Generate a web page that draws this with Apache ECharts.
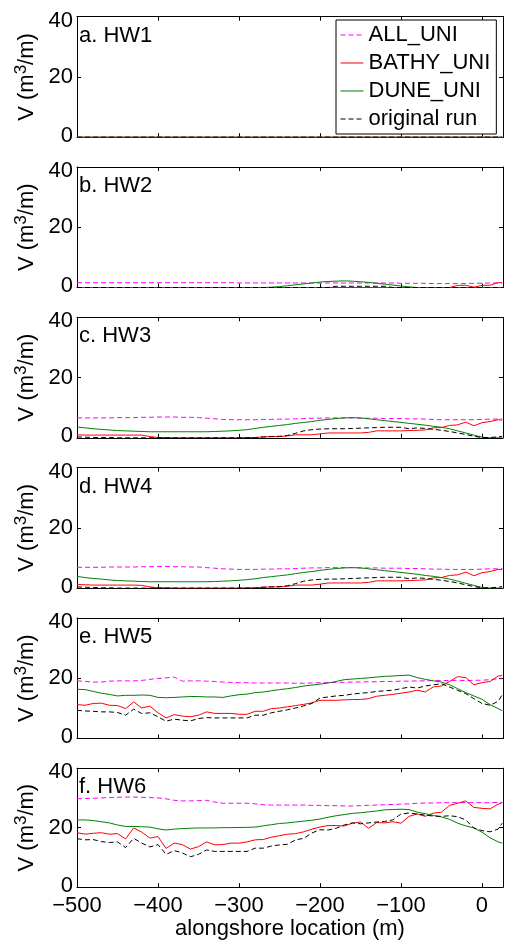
<!DOCTYPE html>
<html>
<head>
<meta charset="utf-8">
<script src="https://cdn.jsdelivr.net/npm/echarts@6/dist/echarts.min.js"></script>
<style>
  html, body { margin: 0; padding: 0; background: #fff; }
  #chart { width: 507px; height: 941px; }
</style>
</head>
<body>
<div id="chart"></div>
<script>
// Alongshore positions (m) shared by every panel
const xs = [-500, -490, -480, -470, -460, -450, -440, -430, -420, -410,
            -400, -390, -380, -370, -360, -350, -340, -330, -320, -310,
            -300, -290, -280, -270, -260, -250, -240, -230, -220, -210,
            -200, -190, -180, -170, -160, -150, -140, -130, -120, -110,
            -100, -90, -80, -70, -60, -50, -40, -30, -20, -10,
            0, 10, 20, 25];

// HW1
const hw1All   = [0,0,0,0,0,0,0,0,0,0, 0,0,0,0,0,0,0,0,0,0, 0,0,0,0,0,0,0,0,0,0, 0,0,0,0,0,0,0,0,0,0, 0,0,0,0,0,0,0,0,0,0, 0,0,0,0];
const hw1Bathy = [0,0,0,0,0,0,0,0,0,0, 0,0,0,0,0,0,0,0,0,0, 0,0,0,0,0,0,0,0,0,0, 0,0,0,0,0,0,0,0,0,0, 0,0,0,0,0,0,0,0,0,0, 0,0,0,0];
const hw1Dune  = [0,0,0,0,0,0,0,0,0,0, 0,0,0,0,0,0,0,0,0,0, 0,0,0,0,0,0,0,0,0,0, 0,0,0,0,0,0,0,0,0,0, 0,0,0,0,0,0,0,0,0,0, 0,0,0,0];
const hw1Orig  = [0,0,0,0,0,0,0,0,0,0, 0,0,0,0,0,0,0,0,0,0, 0,0,0,0,0,0,0,0,0,0, 0,0,0,0,0,0,0,0,0,0, 0,0,0,0,0,0,0,0,0,0, 0,0,0,0];

// HW2
const hw2All   = [1.6,1.6,1.6,1.6,1.6,1.6,1.6,1.6,1.6,1.6, 1.6,1.6,1.6,1.6,1.6,1.6,1.6,1.6,1.6,1.6,
                  1.5,1.5,1.5,1.5,1.5,1.5,1.5,1.5,1.5,1.5, 1.5,1.5,1.5,1.5,1.5,1.5,1.5,1.5,1.5,1.5,
                  1.4,1.4,1.4,1.4,1.3,1.3,1.3,1.3,1.3,1.4, 1.4,1.5,1.5,1.5];
const hw2Bathy = [0,0,0,0,0,0,0,0,0,0, 0,0,0,0,0,0,0,0,0,0, 0,0,0,0,0,0,0,0,0,0, 0,0,0,0,0,0,0,0,0,0,
                  0,0,0,0,0,0,0,0.7,0.75,0.1, 0.7,0.75,1.6,1.6];
const hw2Dune  = [0,0,0,0,0,0,0,0,0,0, 0,0,0,0,0,0,0,0,0,0, 0,0,0,0,0.1,0.3,0.6,0.9,1.2,1.5,
                  1.8,2.0,2.1,2.2,2.1,1.9,1.7,1.4,1.1,0.8, 0.5,0.2,0,0,0,0,0,0,0,0, 0,0,0,0];
const hw2Orig  = [0,0,0,0,0,0,0,0,0,0, 0,0,0,0,0,0,0,0,0,0, 0,0,0,0,0,0,0,0,0,0,
                  0,0,0.4,0.4,0.4,0.4,0.4,0.4,0.4,0, 0,0,0,0,0,0,0,0,0,0, 0,0,0,0];

// HW3
const hw3All   = [6.6,6.6,6.6,6.6,6.6,6.7,6.7,6.7,6.8,6.8, 6.9,6.9,6.9,6.8,6.8,6.7,6.5,6.3,6.1,6.0,
                  6.0,6.0,6.0,6.1,6.1,6.2,6.2,6.3,6.4,6.5, 6.5,6.6,6.6,6.6,6.6,6.5,6.5,6.5,6.4,6.4,
                  6.4,6.3,6.3,6.2,6.1,6.0,6.0,6.0,6.0,6.0, 6.1,6.2,6.2,6.3];
const hw3Bathy = [1.0,0.9,0.9,0.9,0.9,0.9,0.9,0.9,0.9,0.4, 0.1,0.1,0,0,0,0,0,0,0,0,
                  0,0.1,0.1,0.3,0.4,0.4,0.6,1.0,1.0,1.0, 1.3,1.6,1.6,1.6,1.6,1.6,1.8,2.3,2.3,2.3,
                  2.3,2.4,2.5,2.6,3.3,3.4,4.1,4.3,5.2,4.0, 5.0,5.4,6.0,5.9];
const hw3Dune  = [3.6,3.3,3.0,2.8,2.6,2.4,2.3,2.2,2.1,2.0, 2.0,2.0,2.0,2.0,2.0,2.0,2.0,2.1,2.2,2.3,
                  2.5,2.7,3.1,3.5,3.8,4.1,4.4,4.8,5.1,5.4, 5.8,6.1,6.4,6.6,6.7,6.6,6.3,6.0,5.7,5.4,
                  5.1,4.8,4.5,4.2,3.8,3.5,3.0,2.3,1.6,0.9, 0.2,0,0,0];
const hw3Orig  = [0.3,0.2,0.1,0.1,0.1,0,0,0,0,0, 0,0,0,0,0,0,0,0,0,0,
                  0,0,0,0.3,0.4,0.5,0.8,1.5,2.3,2.7, 2.9,3.0,3.0,3.0,3.1,3.2,3.3,3.4,3.5,3.5,
                  3.5,3.0,3.3,3.1,2.8,2.5,2.1,1.6,1.1,0.5, 0.1,0.1,0.3,0.5];

// HW4
const hw4All   = [6.9,6.9,6.9,6.9,7.0,7.0,7.0,7.0,7.1,7.1, 7.2,7.2,7.1,7.1,7.0,7.0,6.8,6.6,6.4,6.3,
                  6.2,6.2,6.2,6.3,6.3,6.4,6.4,6.5,6.6,6.7, 6.7,6.8,6.8,6.8,6.8,6.7,6.7,6.7,6.6,6.6,
                  6.6,6.5,6.5,6.4,6.3,6.3,6.2,6.2,6.2,6.2, 6.3,6.4,6.4,6.5];
const hw4Bathy = [1.2,1.1,1.0,1.0,1.0,1.0,1.0,1.0,0.9,0.4, 0.1,0.1,0,0,0,0,0,0,0,0,
                  0,0.1,0.1,0.3,0.4,0.4,0.6,1.0,1.0,1.0, 1.3,1.7,1.7,1.7,1.7,1.7,1.9,2.4,2.4,2.4,
                  2.4,2.5,2.6,2.7,3.4,3.5,4.2,4.4,5.3,4.1, 5.1,5.5,6.2,6.1];
const hw4Dune  = [3.9,3.5,3.2,3.0,2.7,2.5,2.4,2.3,2.2,2.1, 2.1,2.1,2.1,2.1,2.1,2.1,2.1,2.2,2.3,2.4,
                  2.6,2.8,3.1,3.5,3.8,4.1,4.4,4.8,5.2,5.5, 5.9,6.2,6.5,6.7,6.8,6.7,6.4,6.1,5.8,5.5,
                  5.2,4.9,4.6,4.2,3.9,3.5,3.0,2.3,1.6,0.9, 0.2,0,0,0];
const hw4Orig  = [0.4,0.3,0.2,0.1,0.1,0,0,0,0,0, 0,0,0,0,0,0,0,0,0,0,
                  0,0,0,0.3,0.4,0.5,0.8,1.5,2.3,2.7, 2.9,3.0,3.0,3.1,3.2,3.3,3.4,3.5,3.6,3.6,
                  3.6,3.1,3.4,3.2,2.9,2.6,2.2,1.7,1.1,0.5, 0.1,0.1,0.3,0.5];

// HW5
const hw5All   = [19.1,18.9,18.7,18.7,19.0,19.1,19.1,19.1,19.25,19.6, 19.9,20.1,20.35,19.0,19.1,19.1,19.0,18.9,18.7,18.6,
                  18.5,18.5,18.4,18.4,18.4,18.4,18.4,18.3,18.3,18.4, 18.5,18.5,18.6,18.6,18.7,18.7,18.8,18.8,18.9,18.9,
                  19.0,19.0,19.1,19.1,19.2,19.2,19.2,19.3,19.2,19.3, 19.3,19.5,19.8,19.8];
const hw5Bathy = [11.2,11.0,11.6,11.7,11.0,10.9,9.9,12.1,10.1,10.7, 8.5,6.8,7.9,7.4,7.2,7.7,8.8,8.3,8.3,8.3,
                  8.0,8.0,9.0,9.0,9.9,10.1,10.5,10.9,11.3,11.8, 12.65,12.65,12.65,12.8,12.9,12.9,13.2,14.0,14.3,14.6,
                  15.0,15.4,16.0,15.4,17.1,17.4,18.9,20.5,20.2,17.8, 18.5,18.9,20.7,20.9];
const hw5Dune  = [16.3,16.2,15.6,15.0,14.6,14.1,14.3,14.3,14.4,14.3, 13.6,13.5,13.6,13.75,13.9,13.9,13.75,13.75,13.6,14.1,
                  14.5,14.7,15.2,15.4,15.8,16.2,16.5,16.9,17.4,17.7, 18.0,18.4,18.9,19.5,19.7,19.9,20.1,20.35,20.6,20.7,
                  20.9,21.0,20.2,19.6,19.1,18.7,17.8,16.5,15.2,14.1, 13.0,11.2,9.9,9.2];
const hw5Orig  = [9.35,9.1,9.0,8.8,8.8,8.6,7.7,9.7,8.25,8.5, 7.15,5.7,6.4,6.05,5.8,6.6,6.9,6.8,6.8,6.8,
                  6.8,6.8,7.7,7.7,8.5,9.0,9.5,10.1,10.8,11.6, 13.4,13.75,14.1,14.3,14.7,15.0,15.2,15.6,15.8,16.0,
                  16.5,17.05,16.7,17.4,17.8,18.15,17.05,15.95,14.85,13.2, 11.6,11.0,12.3,14.5];

// HW6
const hw6All   = [29.7,29.8,29.9,30.0,30.1,30.2,30.3,30.3,30.2,30.1, 30.0,29.7,29.2,29.0,29.0,29.1,29.2,28.6,28.2,28.2,
                  28.2,28.2,28.0,27.7,27.6,27.6,27.6,27.6,27.6,27.5, 27.5,27.4,27.4,27.3,27.3,27.4,27.5,27.6,27.7,27.8,
                  27.9,28.0,28.2,28.3,28.3,28.4,28.4,28.4,28.4,28.4, 28.4,28.4,28.5,28.5];
const hw6Bathy = [18.3,17.8,18.1,18.3,17.8,18.0,16.2,19.9,18.5,16.5, 17.0,13.0,14.8,14.3,12.8,13.6,15.2,14.2,14.3,14.8,
                  14.8,15.2,15.9,16.0,16.8,17.3,17.8,18.0,18.6,19.5, 20.2,20.7,20.7,20.55,21.5,21.9,19.8,21.7,21.6,22.0,
                  21.5,23.8,24.6,23.8,24.9,25.2,27.5,28.2,29.0,26.8, 26.5,26.3,27.9,28.4];
const hw6Dune  = [22.6,22.6,22.4,22.0,21.6,20.9,20.4,20.4,20.3,20.2, 19.6,19.2,19.5,19.7,19.8,19.9,19.9,19.9,20.0,20.0,
                  20.05,20.1,20.2,20.6,21.0,21.4,21.6,21.9,22.2,22.5, 22.9,23.5,24.0,24.4,24.8,25.0,25.3,25.6,26.0,26.1,
                  26.2,26.1,25.2,24.7,24.1,23.6,22.8,21.5,20.6,19.9, 18.5,16.6,15.2,14.8];
const hw6Orig  = [16.3,15.9,16.0,15.3,15.0,15.2,13.3,16.4,14.8,13.5, 14.3,11.0,12.3,11.5,10.2,11.0,12.5,12.0,12.0,12.0,
                  12.0,12.0,13.1,13.1,13.8,14.2,14.4,15.9,16.4,18.2, 19.3,19.2,19.8,20.9,21.6,21.3,21.6,21.9,22.1,22.6,
                  24.6,24.9,24.6,24.2,23.9,23.8,24.0,23.7,22.6,19.9, 19.0,18.6,19.5,21.5];

const panelLabels = ['a. HW1', 'b. HW2', 'c. HW3', 'd. HW4', 'e. HW5', 'f. HW6'];
const seriesNames = ['ALL_UNI', 'BATHY_UNI', 'DUNE_UNI', 'original run'];
const panelData = [
  [hw1All, hw1Bathy, hw1Dune, hw1Orig],
  [hw2All, hw2Bathy, hw2Dune, hw2Orig],
  [hw3All, hw3Bathy, hw3Dune, hw3Orig],
  [hw4All, hw4Bathy, hw4Dune, hw4Orig],
  [hw5All, hw5Bathy, hw5Dune, hw5Orig],
  [hw6All, hw6Bathy, hw6Dune, hw6Orig]
];
const xMin = -500, xMax = 26, xStep = 100;
const yMin = 0, yMax = 40, yStep = 20;

const FONT = '"Liberation Sans", Arial, Helvetica, sans-serif';
const lineStyles = [
  { color: '#ff00ff', type: [5, 3] },
  { color: '#ff0000', type: 'solid' },
  { color: '#008000', type: 'solid' },
  { color: '#000000', type: [5, 3] }
];

const GRID_LEFT = 77, GRID_WIDTH = 426, GRID_TOP0 = 16.7, GRID_STEP = 150.3, GRID_H = 120.5;

const grids = [], xAxes = [], yAxes = [], series = [], graphics = [];
const fmtX = v => (v % 100 === 0 ? (v < 0 ? '\u2212' + Math.abs(v) : String(v)) : '');
// y tick labels: the top one sits slightly below its tick, the bottom one slightly above
const fmtY = v => (v === yMax ? '{hi|' + v + '}' : v === yMin ? '{lo|' + v + '}' : String(v));
const axisLine = { show: true, onZero: false, lineStyle: { color: '#000', width: 1 } };
const tick = { show: true, inside: true, length: 4, lineStyle: { color: '#000', width: 1 } };

panelData.forEach((vals, i) => {
  const top = GRID_TOP0 + GRID_STEP * i;
  const last = i === panelData.length - 1;
  grids.push({ left: GRID_LEFT, width: GRID_WIDTH, top: top, height: GRID_H, containLabel: false });

  xAxes.push({
    type: 'value', gridIndex: i, position: 'bottom', min: xMin, max: xMax, interval: xStep,
    axisLine, axisTick: tick, splitLine: { show: false },
    axisLabel: { show: last, formatter: fmtX, fontSize: 22, fontFamily: FONT, color: '#000', margin: 8 },
    name: last ? 'alongshore location (m)' : '', nameLocation: 'middle', nameGap: 29,
    nameTextStyle: { fontSize: 22, fontFamily: FONT, color: '#000' }
  });
  xAxes.push({
    type: 'value', gridIndex: i, position: 'top', min: xMin, max: xMax, interval: xStep,
    axisLine, axisTick: tick, splitLine: { show: false }, axisLabel: { show: false }
  });
  yAxes.push({
    type: 'value', gridIndex: i, position: 'left', min: yMin, max: yMax, interval: yStep,
    axisLine, axisTick: tick, splitLine: { show: false },
    axisLabel: {
      fontSize: 22, fontFamily: FONT, color: '#000', margin: 4, formatter: fmtY,
      rich: {
        hi: { fontSize: 22, fontFamily: FONT, color: '#000', padding: [8, 0, 0, 0] },
        lo: { fontSize: 22, fontFamily: FONT, color: '#000', padding: [0, 0, 3, 0] }
      }
    },
    name: 'V (m{s|3}/m)', nameLocation: 'middle', nameGap: 33,
    nameTextStyle: {
      fontSize: 22, fontFamily: FONT, color: '#000',
      rich: { s: { fontSize: 17, fontFamily: FONT, color: '#000', padding: [0, 0, 10, 0] } }
    }
  });
  yAxes.push({
    type: 'value', gridIndex: i, position: 'right', min: yMin, max: yMax, interval: yStep,
    axisLine, axisTick: tick, splitLine: { show: false }, axisLabel: { show: false }
  });

  vals.forEach((arr, k) => {
    series.push({
      type: 'line', name: seriesNames[k], xAxisIndex: 2 * i, yAxisIndex: 2 * i,
      data: xs.map((x, j) => [x, arr[j]]),
      symbol: 'none', showSymbol: false, animation: false, silent: true,
      lineStyle: { color: lineStyles[k].color, type: lineStyles[k].type, width: 1 },
      itemStyle: { color: lineStyles[k].color }
    });
  });

  graphics.push({
    type: 'text', left: GRID_LEFT + 2, top: top + 8,
    style: { text: panelLabels[i], fontSize: 22, fontFamily: FONT, fill: '#000' }
  });
});

const chart = echarts.init(document.getElementById('chart'), null, { renderer: 'canvas' });
chart.setOption({
  backgroundColor: '#fff',
  animation: false,
  grid: grids,
  xAxis: xAxes,
  yAxis: yAxes,
  series: series,
  graphic: graphics,
  legend: {
    data: seriesNames,
    orient: 'vertical', left: 336, top: 20,
    padding: [4, 6, 4, 4], itemGap: 6, itemWidth: 23, itemHeight: 14,
    borderColor: '#000', borderWidth: 1, backgroundColor: '#fff',
    selectedMode: false,
    itemStyle: { opacity: 0 },
    lineStyle: { width: 1 },
    textStyle: { fontSize: 22, fontFamily: FONT, color: '#000' }
  }
});
</script>
</body>
</html>
